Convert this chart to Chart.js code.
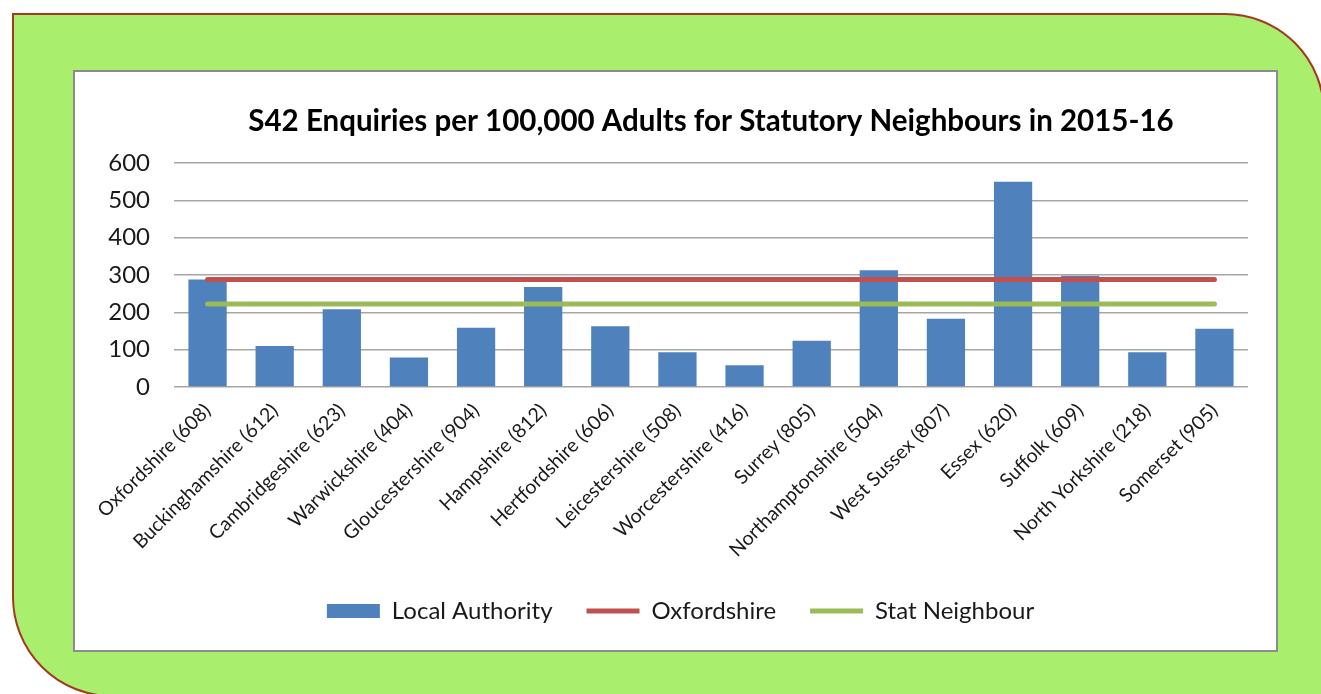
<!DOCTYPE html>
<html>
<head>
<meta charset="utf-8">
<script src="https://cdn.jsdelivr.net/npm/chart.js@4/dist/chart.umd.min.js"></script>
<style>
    html, body { margin: 0; padding: 0; background: #ffffff; overflow: hidden; }
    body { width: 1321px; height: 694px; position: relative; }
    .fond {
        position: absolute; left: 12px; top: 13px; width: 1313px; height: 684px;
        box-sizing: border-box; background: #aaee6e; border: 2px solid #a23a1c;
        border-top-right-radius: 100px; border-bottom-left-radius: 100px;
    }
    .cadre {
        position: absolute; left: 73px; top: 70px; width: 1205px; height: 582px;
        box-sizing: border-box; background: #ffffff; border: 2px solid #8c8c8c;
    }
    .cadre canvas { display: block; }
</style>
</head>
<body>
<div class="fond"></div>
<div class="cadre"><canvas id="s42Chart" width="1201" height="578"></canvas></div>
<script>
// Données du graphique
const autorites = [
    'Oxfordshire (608)', 'Buckinghamshire (612)', 'Cambridgeshire (623)', 'Warwickshire (404)',
    'Gloucestershire (904)', 'Hampshire (812)', 'Hertfordshire (606)', 'Leicestershire (508)',
    'Worcestershire (416)', 'Surrey (805)', 'Northamptonshire (504)', 'West Sussex (807)',
    'Essex (620)', 'Suffolk (609)', 'North Yorkshire (218)', 'Somerset (905)'
];
const enquetesLocales = [288, 110, 208, 79, 159, 268, 163, 93, 58, 124, 313, 183, 550, 298, 93, 156];
const moyenneOxfordshire = [288, 288, 288, 288, 288, 288, 288, 288, 288, 288, 288, 288, 288, 288, 288, 288];
const moyenneVoisins = [222, 222, 222, 222, 222, 222, 222, 222, 222, 222, 222, 222, 222, 222, 222, 222];
const ticksY = [0, 100, 200, 300, 400, 500, 600];

const titre = 'S42 Enquiries per 100,000 Adults for Statutory Neighbours in 2015-16';
const police = "Lato, 'Noto Sans', sans-serif";

// Titre centré au-dessus de la zone de tracé (comme Excel)
const titrePlugin = {
    id: 'titreZone',
    afterDraw(chart) {
        const { ctx, chartArea } = chart;
        ctx.save();
        ctx.font = 'bold 29.5px ' + police;
        ctx.fillStyle = '#000000';
        ctx.textAlign = 'center';
        ctx.textBaseline = 'alphabetic';
        ctx.fillText(titre, (chartArea.left + chartArea.right) / 2, 59);
        ctx.restore();
    }
};

// Légende centrée sur le cadre entier plutôt que sur la zone sans marge droite
const decalageLegende = {
    id: 'decalageLegende',
    afterLayout(chart) {
        chart.legend.left += 19;
        chart.legend.right += 19;
    }
};

const ctx = document.getElementById('s42Chart').getContext('2d');
new Chart(ctx, {
    type: 'bar',
    data: {
        labels: autorites,
        datasets: [{
            label: 'Local Authority',
            data: enquetesLocales,
            backgroundColor: '#4f81bd',
            borderWidth: 0,
            barPercentage: 0.57,
            categoryPercentage: 1,
            pointStyle: 'rect',
            order: 2
        }, {
            type: 'line',
            label: 'Oxfordshire',
            data: moyenneOxfordshire,
            borderColor: '#c0504d',
            backgroundColor: '#c0504d',
            borderWidth: 5,
            borderCapStyle: 'round',
            pointRadius: 0,
            pointStyle: 'line',
            order: 0
        }, {
            type: 'line',
            label: 'Stat Neighbour',
            data: moyenneVoisins,
            borderColor: '#9bbb59',
            backgroundColor: '#9bbb59',
            borderWidth: 5,
            borderCapStyle: 'round',
            pointRadius: 0,
            pointStyle: 'line',
            order: 1
        }]
    },
    options: {
        responsive: false,
        animation: false,
        layout: {
            padding: { top: 91, left: 0, right: 28, bottom: 17 }
        },
        scales: {
            x: {
                grid: { display: false },
                border: { display: false },
                ticks: {
                    color: '#1a1a1a',
                    font: { family: police, size: 19.5 },
                    minRotation: 45,
                    maxRotation: 45,
                    autoSkip: false,
                    padding: 4
                },
                afterFit: s => { s.height = 178; }
            },
            y: {
                min: 0,
                max: 600,
                afterBuildTicks: s => { s.ticks = ticksY.map(v => ({ value: v })); },
                grid: { color: '#a6a6a6', lineWidth: 1.5, drawTicks: false },
                border: { display: false },
                ticks: {
                    color: '#1a1a1a',
                    font: { family: police, size: 24 },
                    padding: 24
                },
                afterFit: s => { s.width = 99; }
            }
        },
        plugins: {
            legend: {
                position: 'bottom',
                labels: {
                    usePointStyle: true,
                    pointStyleWidth: 53,
                    boxHeight: 14,
                    padding: 34,
                    color: '#1a1a1a',
                    font: { family: police, size: 24 },
                    sort: (a, b) => a.datasetIndex - b.datasetIndex
                }
            },
            title: { display: false },
            tooltip: { enabled: false }
        }
    },
    plugins: [titrePlugin, decalageLegende]
});
</script>
</body>
</html>
